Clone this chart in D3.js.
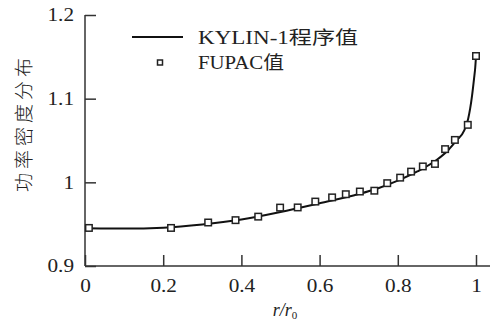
<!DOCTYPE html>
<html><head><meta charset="utf-8">
<script src="https://cdn.jsdelivr.net/npm/d3@7"></script>
<style>
html,body{margin:0;padding:0;background:#fff;}
svg{display:block;}
text{font-family:"Liberation Serif","Times New Roman","Noto Sans CJK SC",serif;fill:#222;}
</style></head>
<body>
<svg id="chart" width="496" height="321"></svg>
<script>
// KYLIN-1 program values (curve)
const curveX = [0, 0.1, 0.2, 0.3, 0.4, 0.5, 0.6, 0.7, 0.75, 0.8, 0.85, 0.9, 0.93, 0.95, 0.97, 0.98, 0.985, 0.99, 0.995, 0.998, 1.0];
const curveY = [0.945, 0.9448, 0.9458, 0.9495, 0.9555, 0.9645, 0.975, 0.986, 0.993, 1.002, 1.013, 1.027, 1.039, 1.05, 1.062, 1.076, 1.088, 1.104, 1.124, 1.137, 1.15];
// FUPAC values (squares)
const fupacX = [0.01, 0.22, 0.315, 0.385, 0.443, 0.499, 0.544, 0.589, 0.632, 0.667, 0.703, 0.74, 0.773, 0.806, 0.834, 0.864, 0.895, 0.921, 0.946, 0.979, 1.0];
const fupacY = [0.9455, 0.9455, 0.952, 0.9548, 0.959, 0.9698, 0.970, 0.977, 0.982, 0.9858, 0.989, 0.990, 0.999, 1.0056, 1.0128, 1.019, 1.022, 1.0397, 1.0507, 1.0687, 1.151];
const xTicks = [0, 0.2, 0.4, 0.6, 0.8, 1];
const yTicks = [0.9, 1, 1.1, 1.2];
const legendLabels = ["KYLIN-1程序值", "FUPAC值"];
const yLabel = "功率密度分布";

const svg = d3.select("#chart");
const x = d3.scaleLinear().domain([0, 1]).range([85, 476]);
const y = d3.scaleLinear().domain([0.9, 1.2]).range([266, 15]);
const fmt = d3.format("~g");
const axisColor = "#333";

// x axis
const gx = svg.append("g").attr("transform", "translate(0,266)")
  .call(d3.axisBottom(x).tickValues(xTicks).tickFormat(fmt).tickSizeInner(-11).tickSizeOuter(0).tickPadding(13));
gx.select(".domain").remove();
gx.selectAll(".tick line").attr("stroke", axisColor).attr("stroke-width", 1.5);
gx.selectAll(".tick text").attr("font-size", 18).attr("fill", "#222")
  .attr("font-family", "Liberation Serif").attr("transform", "scale(1.18,1)").attr("x", 0);
svg.append("line").attr("x1", x(0)).attr("x2", 490).attr("y1", 266).attr("y2", 266)
  .attr("stroke", axisColor).attr("stroke-width", 1.5);

// y axis
const gy = svg.append("g").attr("transform", "translate(85,0)")
  .call(d3.axisLeft(y).tickValues(yTicks).tickFormat(fmt).tickSizeInner(-11).tickSizeOuter(0).tickPadding(11));
gy.select(".domain").remove();
gy.selectAll(".tick line").attr("stroke", axisColor).attr("stroke-width", 1.5);
gy.selectAll(".tick text").attr("font-size", 18).attr("fill", "#222")
  .attr("font-family", "Liberation Serif").attr("x", -11 / 1.18).attr("transform", "scale(1.18,1)");
svg.append("line").attr("x1", 85).attr("x2", 85).attr("y1", y(1.2)).attr("y2", 266)
  .attr("stroke", axisColor).attr("stroke-width", 1.5);

// curve
const line = d3.line().x(d => x(d[0])).y(d => y(d[1])).curve(d3.curveMonotoneX);
svg.append("path").datum(d3.zip(curveX, curveY)).attr("d", line)
  .attr("fill", "none").attr("stroke", "#111").attr("stroke-width", 2);

// squares
const s = 6.5;
svg.append("g").selectAll("rect").data(d3.zip(fupacX, fupacY)).join("rect")
  .attr("x", d => x(d[0]) - s / 2).attr("y", d => y(d[1]) - s / 2)
  .attr("width", s).attr("height", s)
  .attr("fill", "#fff").attr("stroke", "#222").attr("stroke-width", 1.5);

// legend
svg.append("line").attr("x1", 132).attr("x2", 183).attr("y1", 37).attr("y2", 37)
  .attr("stroke", "#111").attr("stroke-width", 2);
svg.append("rect").attr("x", 160 - 2.5).attr("y", 62.5 - 2.5).attr("width", 5).attr("height", 5)
  .attr("fill", "#fff").attr("stroke", "#222").attr("stroke-width", 1.5);
svg.append("text").attr("x", 198).attr("y", 43.5).attr("font-size", 18)
  .attr("textLength", 160).attr("lengthAdjust", "spacingAndGlyphs").text(legendLabels[0]);
svg.append("text").attr("x", 198).attr("y", 68.5).attr("font-size", 18)
  .attr("textLength", 86).attr("lengthAdjust", "spacingAndGlyphs").text(legendLabels[1]);

// y label
svg.append("text").attr("transform", "translate(31,123) rotate(-90)")
  .attr("text-anchor", "middle").attr("font-size", 19).attr("letter-spacing", 4)
  .attr("font-family", "Noto Sans CJK SC").attr("font-weight", 300).attr("fill", "#333")
  .text(yLabel);

// x label r/r0
const xl = svg.append("text").attr("x", 285).attr("y", 316).attr("text-anchor", "middle")
  .attr("font-size", 18).attr("font-style", "italic");
xl.append("tspan").text("r/r");
xl.append("tspan").attr("font-size", 11).attr("font-style", "normal").attr("dy", 3).text("0");
</script>
</body></html>
